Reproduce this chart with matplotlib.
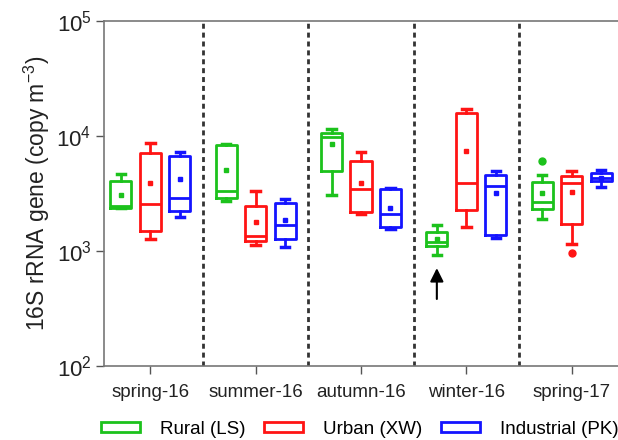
import numpy as np
import matplotlib
matplotlib.use('Agg')
import matplotlib.pyplot as plt
from matplotlib.patches import Patch

plt.rcParams['font.family'] = ['Liberation Sans', 'DejaVu Sans']
plt.rcParams['mathtext.fontset'] = 'custom'
plt.rcParams['mathtext.rm'] = 'Liberation Sans'
plt.rcParams['mathtext.it'] = 'Liberation Sans:italic'
plt.rcParams['mathtext.bf'] = 'Liberation Sans:bold'

seasons = ['spring-16', 'summer-16', 'autumn-16', 'winter-16', 'spring-17']
sites = ['Rural (LS)', 'Urban (XW)', 'Industrial (PK)']
colors = ['#1cc21c', '#ff1414', '#1414ff']

# box statistics (copies per m3)
rural_low = [2350, 2715, 3040, 930, 1890]
rural_q1 = [2380, 2900, 4920, 1100, 2300]
rural_med = [2460, 3310, 9670, 1190, 2680]
rural_q3 = [4040, 8360, 10670, 1450, 3960]
rural_high = [4680, 8480, 11420, 1680, 4610]
rural_mean = [3040, 5090, 8480, 1270, 3160]
rural_out = [[], [], [], [], [6000]]

urban_low = [1270, 1130, 2110, 1630, 1150]
urban_q1 = [1500, 1230, 2200, 2270, 1710]
urban_med = [2540, 1360, 3420, 3910, 3910]
urban_q3 = [7100, 2460, 6000, 15700, 4460]
urban_high = [8650, 3310, 7230, 16990, 4920]
urban_mean = [3860, 1790, 3910, 7330, 3250]
urban_out = [[], [], [], [], [960]]

indus_low = [1990, 1080, 1550, 1290, 3580]
indus_q1 = [2230, 1270, 1630, 1370, 4040]
indus_med = [2900, 1680, 2090, 3660, 4260]
indus_q3 = [6630, 2630, 3420, 4610, 4760]
indus_high = [7180, 2850, 3490, 4990, 5090]
indus_mean = [4180, 1850, 2350, 3200, 4260]
indus_out = [[], [], [], [], []]

site_data = [
    (rural_low, rural_q1, rural_med, rural_q3, rural_high, rural_mean, rural_out),
    (urban_low, urban_q1, urban_med, urban_q3, urban_high, urban_mean, urban_out),
    (indus_low, indus_q1, indus_med, indus_q3, indus_high, indus_mean, indus_out),
]

fig = plt.figure(figsize=(6.18, 4.40), dpi=100)
ax = fig.add_axes([0.1683, 0.168, 0.8317, 0.785])

offsets = [-0.28, 0.0, 0.28]
x = np.arange(len(seasons))
for k, (lo, q1, med, q3, hi, mn, out) in enumerate(site_data):
    stats = []
    for i in range(len(seasons)):
        stats.append(dict(whislo=lo[i], q1=q1[i], med=med[i], q3=q3[i],
                          whishi=hi[i], mean=mn[i], fliers=out[i]))
    c = colors[k]
    ax.bxp(stats, positions=x + offsets[k], widths=0.2, showmeans=True,
           showfliers=True, patch_artist=False,
           boxprops=dict(color=c, lw=2),
           medianprops=dict(color=c, lw=2),
           whiskerprops=dict(color=c, lw=2),
           capprops=dict(color=c, lw=2.5),
           capwidths=0.08,
           meanprops=dict(marker='s', markersize=2.8, markerfacecolor=c,
                          markeredgecolor=c),
           flierprops=dict(marker='o', markersize=5, markerfacecolor=c,
                           markeredgecolor=c))

for b in x[:-1] + 0.5:
    ax.plot([b, b], [100, 1e5], color='#333333', lw=2, ls=(0, (1.8, 1.4)),
            zorder=1)

ax.annotate('', xy=(3 + offsets[0], 750), xytext=(3 + offsets[0], 362),
            arrowprops=dict(arrowstyle='-|>', color='black', lw=1.5,
                            mutation_scale=20))

ax.set_yscale('log')
ax.set_ylim(100, 1e5)
ax.set_xlim(-0.44, 4.44)
ax.set_xticks(x)
ax.set_xticklabels(seasons)
ax.set_yticks([1e2, 1e3, 1e4, 1e5])
ax.yaxis.set_minor_locator(matplotlib.ticker.NullLocator())
ax.tick_params(labelsize=13.5, length=6, width=1, color='#555555',
               colors='#222222')
ax.tick_params(axis='y', labelsize=16, pad=3)
ax.tick_params(axis='x', pad=7)
ax.set_ylabel('16S rRNA gene (copy m$^{-3}$)', fontsize=16.5, color='#222222',
              labelpad=3)
for s in ['left', 'bottom', 'top']:
    ax.spines[s].set_color('#777777')
    ax.spines[s].set_linewidth(1.2)
ax.spines['right'].set_visible(False)

handles = [Patch(facecolor='white', edgecolor=c, lw=2) for c in colors]
fig.legend(handles, sites, loc='center', bbox_to_anchor=(0.582, 0.024),
           ncol=3, frameon=False, fontsize=13.5, handlelength=2.1,
           handleheight=0.45, columnspacing=1.0, handletextpad=1.05,
           borderpad=0.1)

fig.savefig('out.png', dpi=100)
